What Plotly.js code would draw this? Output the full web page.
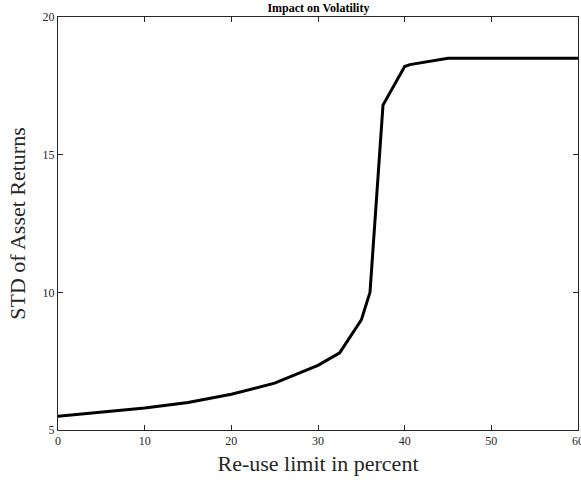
<!DOCTYPE html>
<html><head><meta charset="utf-8">
<script src="https://cdn.plot.ly/plotly-3.0.1.min.js"></script>
<style>html,body{margin:0;padding:0;background:#fff}#chart{width:581px;height:487px}</style>
</head><body><div id="chart"></div>
<script>
const reuseLimit = [0, 5, 10, 15, 20, 25, 30, 32.5, 35, 36, 37.5, 40, 40.6, 45, 50, 55, 60];
const stdReturns = [5.5, 5.65, 5.8, 6.0, 6.3, 6.7, 7.35, 7.8, 9.0, 10.0, 16.8, 18.2, 18.27, 18.5, 18.5, 18.5, 18.5];
const xTicks = [0, 10, 20, 30, 40, 50, 60];
const yTicks = [5, 10, 15, 20];

const font = "Liberation Serif";
const axisCommon = {
  showgrid: false, zeroline: false, showline: true, mirror: 'ticks',
  linecolor: '#262626', linewidth: 1, ticks: 'inside', ticklen: 5, tickwidth: 1, tickcolor: '#262626',
  tickfont: {family: font, size: 12, color: '#262626'}, ticklabeloverflow: 'allow'
};
Plotly.newPlot('chart', [{
  x: reuseLimit, y: stdReturns, type: 'scatter', mode: 'lines',
  line: {color: '#000', width: 3}, hoverinfo: 'skip', cliponaxis: false
}], {
  width: 581, height: 487,
  margin: {l: 58, r: 3, t: 17, b: 57},
  paper_bgcolor: '#fff', plot_bgcolor: '#fff',
  showlegend: false,
  title: {text: '<b>Impact on Volatility</b>', font: {family: font, size: 12, color: '#000'}, x: 0.548, xanchor: 'center', y: 0.993, yanchor: 'top'},
  xaxis: Object.assign({}, axisCommon, {
    range: [0, 60], tickvals: xTicks, ticktext: xTicks.map(String),
    title: {text: 'Re-use limit in percent', font: {family: font, size: 22, color: '#262626'}, standoff: 8}
  }),
  yaxis: Object.assign({}, axisCommon, {
    range: [5, 20], tickvals: yTicks, ticktext: yTicks.map(String),
    title: {text: 'STD of Asset Returns', font: {family: font, size: 22, color: '#262626'}, standoff: 10}
  })
}, {staticPlot: true});
</script></body></html>
